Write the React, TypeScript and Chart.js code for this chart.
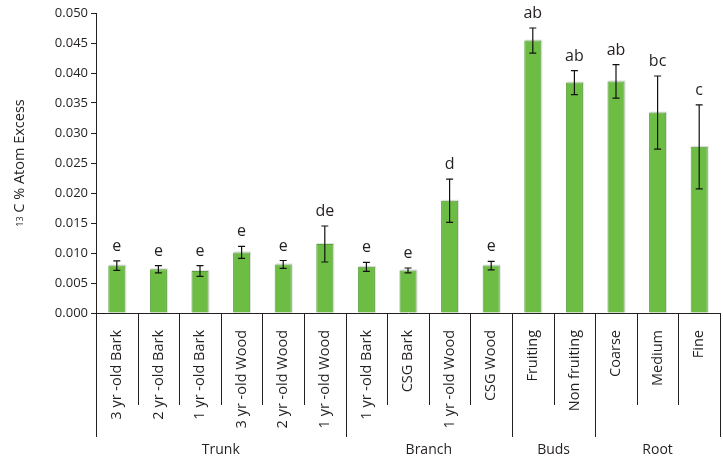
import React, { useEffect, useRef } from "react";
import { Chart, registerables } from "chart.js";

Chart.register(...registerables);

const categories = [
  "3 yr -old Bark", "2 yr -old Bark", "1 yr -old Bark", "3 yr -old Wood", "2 yr -old Wood", "1 yr -old Wood",
  "1 yr -old Bark", "CSG Bark", "1 yr -old Wood", "CSG Wood",
  "Fruiting", "Non fruiting",
  "Coarse", "Medium", "Fine",
];
const means = [0.0079, 0.0073, 0.0070, 0.0101, 0.0081, 0.0115, 0.0077, 0.0071, 0.0187, 0.0079, 0.0454, 0.0384, 0.0386, 0.0334, 0.0277];
const errors = [0.0008, 0.0006, 0.0009, 0.0010, 0.00065, 0.0030, 0.00075, 0.0004, 0.0036, 0.0007, 0.0021, 0.0020, 0.0028, 0.0061, 0.0070];
const letters = ["e", "e", "e", "e", "e", "de", "e", "e", "d", "e", "ab", "ab", "ab", "bc", "c"];
const groups = ["Trunk", "Branch", "Buds", "Root"];
const groupSizes = [6, 4, 2, 3];
const yTicks = [0, 0.005, 0.01, 0.015, 0.02, 0.025, 0.03, 0.035, 0.04, 0.045, 0.05];

const FONT = "'Open Sans', sans-serif";
const INK = "#231f20";

const annotate = {
  id: "annotate",
  beforeDatasetsDraw(chart: any) {
    const { ctx } = chart;
    const meta = chart.getDatasetMeta(0);
    ctx.save();
    ctx.fillStyle = "#e2e2e2";
    meta.data.forEach((bar: any) => {
      const half = bar.width / 2;
      ctx.fillRect(bar.x - half + 1, bar.y - 1, bar.width, bar.base - bar.y + 1);
    });
    ctx.restore();
  },
  afterDatasetsDraw(chart: any) {
    const { ctx, scales } = chart;
    const xs = scales.x;
    const ys = scales.y;
    ctx.save();
    ctx.strokeStyle = "#111";
    ctx.lineWidth = 1.2;
    ctx.fillStyle = INK;
    ctx.font = `16px ${FONT}`;
    ctx.textAlign = "center";
    ctx.textBaseline = "alphabetic";
    means.forEach((m, i) => {
      const x = xs.getPixelForValue(i);
      const yt = ys.getPixelForValue(m + errors[i]);
      const yb = ys.getPixelForValue(m - errors[i]);
      ctx.beginPath();
      ctx.moveTo(x, yt);
      ctx.lineTo(x, yb);
      ctx.moveTo(x - 3.5, yt);
      ctx.lineTo(x + 3.5, yt);
      ctx.moveTo(x - 3.5, yb);
      ctx.lineTo(x + 3.5, yb);
      ctx.stroke();
      ctx.fillText(letters[i], x, yt - 10);
    });
    ctx.restore();
  },
  afterDraw(chart: any) {
    const { ctx, chartArea, scales } = chart;
    const xs = scales.x;
    const bottom = chartArea.bottom;
    const n = categories.length;
    const bound = (i: number) => {
      if (i <= 0) return chartArea.left;
      if (i >= n) return chartArea.right;
      return (xs.getPixelForValue(i - 1) + xs.getPixelForValue(i)) / 2;
    };
    const groupEdges = new Set<number>();
    let acc = 0;
    groupEdges.add(0);
    groupSizes.forEach((s) => {
      acc += s;
      groupEdges.add(acc);
    });
    ctx.save();
    ctx.strokeStyle = INK;
    ctx.lineWidth = 1;
    for (let i = 0; i <= n; i++) {
      const x = Math.round(bound(i)) + 0.5;
      const len = groupEdges.has(i) ? 124 : 92;
      ctx.beginPath();
      ctx.moveTo(x, bottom);
      ctx.lineTo(x, bottom + len);
      ctx.stroke();
    }
    // category labels
    ctx.fillStyle = INK;
    ctx.font = `14.5px ${FONT}`;
    categories.forEach((c, i) => {
      const x = xs.getPixelForValue(i);
      ctx.save();
      ctx.translate(x, bottom + 17);
      ctx.rotate(-Math.PI / 2);
      ctx.textAlign = "right";
      ctx.textBaseline = "middle";
      ctx.fillText(c, 0, 0);
      ctx.restore();
    });
    // group labels
    ctx.font = `14px ${FONT}`;
    ctx.textAlign = "center";
    ctx.textBaseline = "middle";
    let start = 0;
    groups.forEach((g, gi) => {
      const end = start + groupSizes[gi];
      const cx = (bound(start) + bound(end)) / 2;
      ctx.fillText(g, cx, bottom + 137);
      start = end;
    });
    // y title
    const cy = (chartArea.top + chartArea.bottom) / 2;
    ctx.save();
    ctx.translate(24, cy);
    ctx.rotate(-Math.PI / 2);
    ctx.textBaseline = "alphabetic";
    ctx.textAlign = "left";
    ctx.font = `9px ${FONT}`;
    const sup = "13";
    const main = " C % Atom Excess";
    const w1 = ctx.measureText(sup).width;
    ctx.font = `14.5px ${FONT}`;
    const w2 = ctx.measureText(main).width;
    const x0 = -(w1 + w2) / 2;
    ctx.font = `9px ${FONT}`;
    ctx.fillText(sup, x0, -1);
    ctx.font = `14.5px ${FONT}`;
    ctx.fillText(main, x0 + w1, 0);
    ctx.restore();
    ctx.restore();
  },
};

export default function App() {
  const ref = useRef<HTMLCanvasElement>(null);
  useEffect(() => {
    if (!ref.current) return;
    const chart = new Chart(ref.current, {
      type: "bar",
      data: {
        labels: categories,
        datasets: [
          {
            data: means,
            backgroundColor: "#6dbd45",
            borderColor: "#5aa33a",
            borderWidth: 1,
            barPercentage: 0.41,
            categoryPercentage: 1,
          },
        ],
      },
      options: {
        responsive: false,
        animation: false,
        devicePixelRatio: 1,
        layout: { padding: { top: 13, right: 3, left: 0, bottom: 0 } },
        plugins: { legend: { display: false }, tooltip: { enabled: false }, title: { display: false } },
        scales: {
          x: {
            type: "category",
            grid: { display: false },
            border: { display: true, color: INK, width: 1 },
            ticks: { display: false },
            afterFit: (s: any) => {
              s.height = 148;
            },
          },
          y: {
            min: 0,
            max: 0.05,
            afterBuildTicks: (s: any) => {
              s.ticks = yTicks.map((v) => ({ value: v }));
            },
            grid: { drawOnChartArea: false, drawTicks: true, tickLength: 5, color: INK },
            border: { display: true, color: INK, width: 1 },
            ticks: {
              color: INK,
              padding: 3,
              font: { family: "'Open Sans', sans-serif", size: 13 },
              callback: (v: any) => Number(v).toFixed(3),
            },
            afterFit: (s: any) => {
              s.width = 96;
            },
          },
        },
      },
      plugins: [annotate],
    });
    return () => chart.destroy();
  }, []);
  return (
    <div style={{ position: "fixed", left: 0, top: 0, width: 723, height: 461, background: "#fff" }}>
      <canvas ref={ref} width={723} height={461} />
    </div>
  );
}
